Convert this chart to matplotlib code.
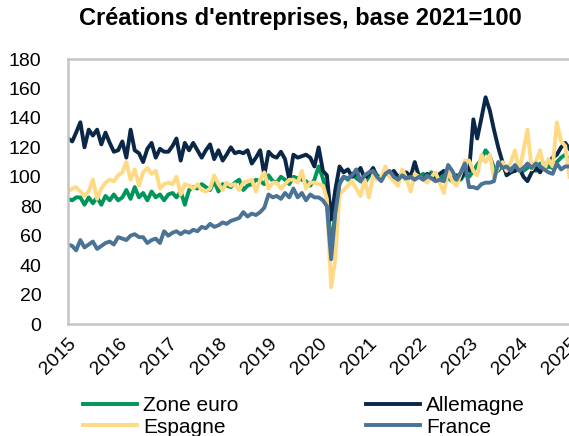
import matplotlib
matplotlib.use("Agg")
import matplotlib.pyplot as plt
import matplotlib.dates as mdates
import pandas as pd

plt.rcParams["font.family"] = ["Liberation Sans", "DejaVu Sans"]

# monthly index, Jan 2015 -> Jan 2025 (base 2021 = 100)
months = pd.date_range("2015-01-01", periods=121, freq="MS")

zone_euro = [
    85, 84, 86, 86, 81, 86, 82, 86, 81, 87, 84, 88,
    84, 86, 91, 85, 93, 86, 89, 84, 90, 86, 88, 84,
    88, 89, 86, 90, 81, 91, 93, 92, 95, 93, 91, 97,
    90, 95, 94, 93, 96, 98, 91, 94, 95, 98, 97, 95,
    101, 97, 96, 100, 98, 95, 100, 99, 98, 97, 94, 98,
    107, 99, 88, 52, 75, 96, 100, 98, 102, 99, 97, 96,
    100, 104, 101, 99, 102, 103, 100, 99, 101, 98, 100, 101,
    100, 102, 99, 103, 100, 98, 101, 99, 97, 100, 98, 102,
    100, 104, 108, 112, 118, 114, 106, 104, 108, 103, 106, 104,
    108, 104, 106, 108, 104, 109, 105, 107, 106, 110, 113, 115,
    111,
]

allemagne = [
    126, 124, 130, 137, 120, 132, 128, 132, 122, 130, 123, 117,
    118, 124, 113, 132, 118, 116, 110, 119, 123, 113, 119, 117,
    117, 121, 126, 111, 123, 118, 123, 118, 113, 118, 122, 112,
    118, 111, 115, 120, 116, 117, 116, 118, 109, 113, 118, 101,
    117, 114, 113, 117, 112, 98, 115, 113, 114, 115, 113, 107,
    120, 104, 101, 71, 91, 107, 103, 105, 100, 102, 106, 99,
    102, 106, 100, 99, 103, 101, 104, 100, 102, 103, 100, 110,
    100, 98, 102, 100, 98, 102, 104, 100, 99, 101, 99, 104,
    104, 139, 126, 140, 154, 145, 132, 120, 110, 101, 103, 104,
    106, 100, 97, 103, 106, 103, 108, 110, 113, 115, 120, 123,
    119,
]

espagne = [
    90, 92, 93, 90, 87, 90, 98, 85, 92, 96, 98, 97,
    101, 103, 110, 98, 105, 94, 103, 106, 102, 104, 92, 95,
    96, 95, 100, 88, 95, 94, 92, 95, 91, 90, 92, 101,
    95, 91, 96, 94, 95, 91, 96, 97, 98, 90, 98, 103,
    92, 96, 96, 92, 95, 98, 98, 96, 104, 92, 96, 96,
    95, 94, 85, 25, 44, 88, 91, 94, 97, 92, 87, 98,
    86, 101, 98, 100, 107, 100, 97, 94, 105, 99, 90, 102,
    100, 98, 96, 100, 103, 96, 89, 104, 97, 94, 102, 111,
    111, 104, 101, 115, 110, 115, 100, 106, 110, 104, 110, 118,
    104, 118, 132, 105, 110, 118, 105, 112, 107, 137, 124, 121,
    100,
]

france = [
    54, 53, 50, 57, 52, 54, 56, 51, 53, 55, 56, 54,
    59, 58, 57, 60, 61, 59, 59, 55, 57, 58, 55, 63,
    60, 62, 63, 61, 63, 62, 64, 63, 66, 65, 68, 66,
    67, 69, 68, 70, 71, 72, 76, 73, 75, 74, 76, 79,
    88, 86, 87, 85, 89, 86, 92, 86, 89, 84, 88, 86,
    86, 84, 80, 44, 75, 95, 100, 99, 101, 105, 97, 101,
    103, 104, 100, 97, 102, 104, 100, 98, 101, 99, 100, 98,
    100, 98, 101, 99, 97, 98, 97, 108, 104, 98, 103, 109,
    93, 93, 92, 95, 96, 96, 97, 110, 106, 107, 104, 108,
    104, 106, 109, 106, 109, 107, 105, 103, 102, 109, 105, 107,
    107,
]

C_ZONE = "#00965A"
C_ALL = "#0B2748"
C_ESP = "#FFDA85"
C_FRA = "#4B7395"
GRID = "#C4C4C4"

fig = plt.figure(figsize=(5.69, 4.36), dpi=100)
ax = fig.add_axes([68 / 569, 1 - 324 / 436, 1 - 68 / 569 + 0.002, (324 - 59) / 436])

lw = 2.8
l_zone, = ax.plot(months, zone_euro, color=C_ZONE, lw=lw, label="Zone euro")
l_all, = ax.plot(months, allemagne, color=C_ALL, lw=lw, label="Allemagne")
l_esp, = ax.plot(months, espagne, color=C_ESP, lw=lw, label="Espagne")
l_fra, = ax.plot(months, france, color=C_FRA, lw=lw, label="France")

ax.set_ylim(0, 180)
ax.set_yticks(range(0, 181, 20))
ax.set_xlim(pd.Timestamp("2015-01-01"), pd.Timestamp("2025-01-06"))
ax.xaxis.set_major_locator(mdates.YearLocator())
ax.xaxis.set_major_formatter(mdates.DateFormatter("%Y"))

for s in ("left", "top", "bottom"):
    ax.spines[s].set_color(GRID)
    ax.spines[s].set_linewidth(1.8)
ax.spines["right"].set_visible(False)

ax.tick_params(axis="both", length=0, labelsize=14, colors="black")
ax.tick_params(axis="y", pad=19)
ax.tick_params(axis="x", pad=8)
for lab in ax.get_xticklabels():
    lab.set_rotation(45)
    lab.set_ha("right")
    lab.set_rotation_mode("anchor")

fig.text(300 / 569, 1 - 19 / 436, "Créations d'entreprises, base 2021=100",
         ha="center", va="center", fontsize=17, fontweight="bold")

# order so rows read: Zone euro / Allemagne, then Espagne / France
fig.legend([l_zone, l_esp, l_all, l_fra], ["Zone euro", "Espagne", "Allemagne", "France"],
           ncol=2, loc="upper left", bbox_to_anchor=(83 / 569, 1 - 396 / 436),
           frameon=False, fontsize=15, handlelength=2.6, handletextpad=0.3,
           columnspacing=6.1, labelspacing=0.12, borderpad=0, borderaxespad=0)

fig.savefig("out.png", dpi=100)
